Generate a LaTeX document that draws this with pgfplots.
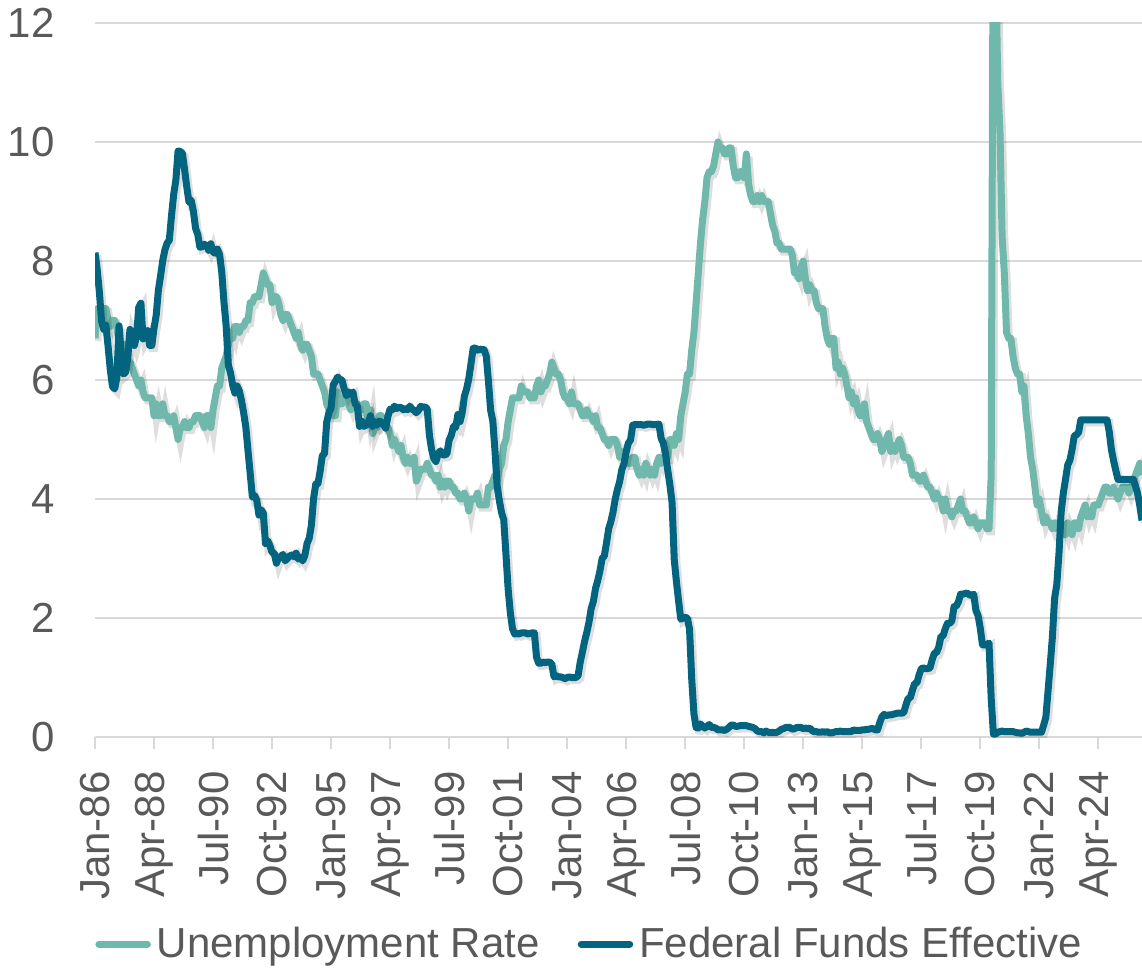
\documentclass[border=0pt]{standalone}
\usepackage{fontspec}
\setmainfont{Liberation Sans}
\usepackage{pgfplots}
\usepackage{pgfplotstable}
\pgfplotsset{compat=1.18}

\definecolor{unemp}{HTML}{70B8AC}
\definecolor{ffr}{HTML}{03647F}
\definecolor{txtgray}{HTML}{595959}
\definecolor{gridgray}{HTML}{D9D9D9}

% Monthly values, Jan 1986 - Dec 2025: unemployment rate (u) and effective fed funds rate (f), in percent
\pgfplotstableread[row sep=\\]{
u f\\
6.7 8.14\\ 7.2 7.86\\ 7.2 7.48\\ 7.1 6.99\\ 7.2 6.85\\ 7.2 6.92\\ 7.0 6.56\\ 6.9 6.17\\ 7.0 5.89\\ 7.0 5.85\\ 6.9 6.04\\ 6.6 6.91\\
6.6 6.43\\ 6.6 6.10\\ 6.6 6.13\\ 6.3 6.37\\ 6.3 6.85\\ 6.2 6.73\\ 6.1 6.58\\ 6.0 6.73\\ 5.9 7.22\\ 6.0 7.29\\ 5.8 6.69\\ 5.7 6.77\\
5.7 6.83\\ 5.7 6.58\\ 5.7 6.58\\ 5.4 6.87\\ 5.6 7.09\\ 5.4 7.51\\ 5.4 7.75\\ 5.6 8.01\\ 5.4 8.19\\ 5.4 8.30\\ 5.3 8.35\\ 5.3 8.76\\
5.4 9.12\\ 5.2 9.36\\ 5.0 9.85\\ 5.2 9.84\\ 5.2 9.81\\ 5.3 9.53\\ 5.2 9.24\\ 5.2 8.99\\ 5.3 9.02\\ 5.3 8.84\\ 5.4 8.55\\ 5.4 8.45\\
5.4 8.23\\ 5.3 8.24\\ 5.2 8.28\\ 5.4 8.26\\ 5.4 8.18\\ 5.2 8.29\\ 5.5 8.15\\ 5.7 8.13\\ 5.9 8.20\\ 5.9 8.11\\ 6.2 7.81\\ 6.3 7.31\\
6.4 6.91\\ 6.6 6.25\\ 6.8 6.12\\ 6.7 5.91\\ 6.9 5.78\\ 6.9 5.90\\ 6.8 5.82\\ 6.9 5.66\\ 6.9 5.45\\ 7.0 5.21\\ 7.0 4.81\\ 7.3 4.43\\
7.3 4.03\\ 7.4 4.06\\ 7.4 3.98\\ 7.4 3.73\\ 7.6 3.82\\ 7.8 3.76\\ 7.7 3.25\\ 7.6 3.30\\ 7.6 3.22\\ 7.3 3.10\\ 7.4 3.09\\ 7.4 2.92\\
7.3 3.02\\ 7.1 3.03\\ 7.0 3.07\\ 7.1 2.96\\ 7.1 3.00\\ 7.0 3.04\\ 6.9 3.06\\ 6.8 3.03\\ 6.7 3.09\\ 6.8 2.99\\ 6.6 3.02\\ 6.5 2.96\\
6.6 3.05\\ 6.6 3.25\\ 6.5 3.34\\ 6.4 3.56\\ 6.1 4.01\\ 6.1 4.25\\ 6.1 4.26\\ 6.0 4.47\\ 5.9 4.73\\ 5.8 4.76\\ 5.6 5.29\\ 5.5 5.45\\
5.6 5.53\\ 5.4 5.92\\ 5.4 5.98\\ 5.8 6.05\\ 5.6 6.01\\ 5.6 6.00\\ 5.7 5.85\\ 5.7 5.74\\ 5.6 5.80\\ 5.5 5.76\\ 5.6 5.80\\ 5.6 5.60\\
5.6 5.56\\ 5.5 5.22\\ 5.5 5.31\\ 5.6 5.22\\ 5.6 5.24\\ 5.3 5.27\\ 5.5 5.40\\ 5.1 5.22\\ 5.2 5.30\\ 5.2 5.24\\ 5.4 5.31\\ 5.4 5.29\\
5.3 5.25\\ 5.2 5.19\\ 5.2 5.39\\ 5.1 5.51\\ 4.9 5.50\\ 5.0 5.56\\ 4.9 5.52\\ 4.8 5.54\\ 4.9 5.54\\ 4.7 5.50\\ 4.6 5.52\\ 4.7 5.50\\
4.6 5.56\\ 4.6 5.51\\ 4.7 5.49\\ 4.3 5.45\\ 4.4 5.49\\ 4.5 5.56\\ 4.5 5.54\\ 4.5 5.55\\ 4.6 5.51\\ 4.5 5.07\\ 4.4 4.83\\ 4.4 4.68\\
4.3 4.63\\ 4.4 4.76\\ 4.2 4.81\\ 4.3 4.74\\ 4.2 4.74\\ 4.3 4.76\\ 4.3 4.99\\ 4.2 5.07\\ 4.2 5.22\\ 4.1 5.20\\ 4.1 5.42\\ 4.0 5.30\\
4.0 5.45\\ 4.1 5.73\\ 4.0 5.85\\ 3.8 6.02\\ 4.0 6.27\\ 4.0 6.53\\ 4.0 6.54\\ 4.1 6.50\\ 3.9 6.52\\ 3.9 6.51\\ 3.9 6.51\\ 3.9 6.40\\
4.2 5.98\\ 4.2 5.49\\ 4.3 5.31\\ 4.4 4.80\\ 4.3 4.21\\ 4.5 3.97\\ 4.6 3.77\\ 4.9 3.65\\ 5.0 3.07\\ 5.3 2.49\\ 5.5 2.09\\ 5.7 1.82\\
5.7 1.73\\ 5.7 1.74\\ 5.7 1.73\\ 5.9 1.75\\ 5.8 1.75\\ 5.8 1.75\\ 5.8 1.73\\ 5.7 1.74\\ 5.7 1.75\\ 5.7 1.75\\ 5.9 1.34\\ 6.0 1.24\\
5.8 1.24\\ 5.9 1.26\\ 5.9 1.25\\ 6.0 1.26\\ 6.1 1.26\\ 6.3 1.22\\ 6.2 1.01\\ 6.1 1.03\\ 6.1 1.01\\ 6.0 1.01\\ 5.8 1.00\\ 5.7 0.98\\
5.7 1.00\\ 5.6 1.01\\ 5.8 1.00\\ 5.6 1.00\\ 5.6 1.00\\ 5.6 1.03\\ 5.5 1.26\\ 5.4 1.43\\ 5.4 1.61\\ 5.5 1.76\\ 5.4 1.93\\ 5.4 2.16\\
5.3 2.28\\ 5.4 2.50\\ 5.2 2.63\\ 5.2 2.79\\ 5.1 3.00\\ 5.0 3.04\\ 5.0 3.26\\ 4.9 3.50\\ 5.0 3.62\\ 5.0 3.78\\ 5.0 4.00\\ 4.9 4.16\\
4.7 4.29\\ 4.8 4.49\\ 4.7 4.59\\ 4.7 4.79\\ 4.6 4.94\\ 4.6 4.99\\ 4.7 5.24\\ 4.7 5.25\\ 4.5 5.25\\ 4.4 5.25\\ 4.5 5.25\\ 4.4 5.24\\
4.6 5.25\\ 4.5 5.26\\ 4.4 5.26\\ 4.5 5.25\\ 4.4 5.25\\ 4.6 5.25\\ 4.7 5.26\\ 4.6 5.02\\ 4.7 4.94\\ 4.7 4.76\\ 4.7 4.49\\ 5.0 4.24\\
5.0 3.94\\ 4.9 2.98\\ 5.1 2.61\\ 5.0 2.28\\ 5.4 1.98\\ 5.6 2.00\\ 5.8 2.01\\ 6.1 2.00\\ 6.1 1.81\\ 6.5 0.97\\ 6.8 0.39\\ 7.3 0.16\\
7.8 0.15\\ 8.3 0.22\\ 8.7 0.18\\ 9.0 0.15\\ 9.4 0.18\\ 9.5 0.21\\ 9.5 0.16\\ 9.6 0.16\\ 9.8 0.15\\ 10.0 0.12\\ 9.9 0.12\\ 9.9 0.12\\
9.8 0.11\\ 9.8 0.13\\ 9.9 0.16\\ 9.9 0.20\\ 9.6 0.20\\ 9.4 0.18\\ 9.4 0.18\\ 9.5 0.19\\ 9.5 0.19\\ 9.4 0.19\\ 9.8 0.19\\ 9.3 0.18\\
9.1 0.17\\ 9.0 0.16\\ 9.0 0.14\\ 9.1 0.10\\ 9.0 0.09\\ 9.1 0.09\\ 9.0 0.07\\ 9.0 0.10\\ 9.0 0.08\\ 8.8 0.07\\ 8.6 0.08\\ 8.5 0.07\\
8.3 0.08\\ 8.3 0.10\\ 8.2 0.13\\ 8.2 0.14\\ 8.2 0.16\\ 8.2 0.16\\ 8.2 0.16\\ 8.1 0.13\\ 7.8 0.14\\ 7.8 0.16\\ 7.7 0.16\\ 7.9 0.16\\
8.0 0.14\\ 7.7 0.15\\ 7.5 0.14\\ 7.6 0.15\\ 7.5 0.11\\ 7.5 0.09\\ 7.3 0.09\\ 7.2 0.08\\ 7.2 0.08\\ 7.2 0.09\\ 6.9 0.08\\ 6.7 0.09\\
6.6 0.07\\ 6.7 0.07\\ 6.7 0.08\\ 6.2 0.09\\ 6.3 0.09\\ 6.1 0.10\\ 6.2 0.09\\ 6.1 0.09\\ 5.9 0.09\\ 5.7 0.09\\ 5.8 0.09\\ 5.6 0.12\\
5.7 0.11\\ 5.5 0.11\\ 5.4 0.11\\ 5.4 0.12\\ 5.6 0.12\\ 5.3 0.13\\ 5.2 0.13\\ 5.1 0.14\\ 5.0 0.14\\ 5.0 0.12\\ 5.1 0.12\\ 5.0 0.24\\
4.8 0.34\\ 4.9 0.38\\ 5.0 0.36\\ 5.1 0.37\\ 4.8 0.37\\ 4.9 0.38\\ 4.8 0.39\\ 4.9 0.40\\ 5.0 0.40\\ 4.9 0.40\\ 4.7 0.41\\ 4.7 0.54\\
4.7 0.65\\ 4.6 0.66\\ 4.4 0.79\\ 4.4 0.90\\ 4.4 0.91\\ 4.3 1.04\\ 4.3 1.15\\ 4.4 1.16\\ 4.3 1.15\\ 4.2 1.15\\ 4.2 1.16\\ 4.1 1.30\\
4.0 1.41\\ 4.1 1.42\\ 4.0 1.51\\ 4.0 1.69\\ 3.8 1.70\\ 4.0 1.82\\ 3.8 1.91\\ 3.8 1.91\\ 3.7 1.95\\ 3.8 2.19\\ 3.8 2.20\\ 3.9 2.27\\
4.0 2.40\\ 3.8 2.40\\ 3.8 2.41\\ 3.7 2.42\\ 3.6 2.39\\ 3.6 2.38\\ 3.7 2.40\\ 3.6 2.13\\ 3.5 2.04\\ 3.6 1.83\\ 3.6 1.55\\ 3.6 1.55\\
3.5 1.55\\ 3.5 1.58\\ 4.4 0.65\\ 14.8 0.05\\ 13.2 0.05\\ 11.0 0.08\\ 10.2 0.09\\ 8.4 0.10\\ 7.8 0.09\\ 6.8 0.09\\ 6.7 0.09\\ 6.7 0.09\\
6.4 0.09\\ 6.2 0.08\\ 6.1 0.07\\ 6.1 0.07\\ 5.8 0.06\\ 5.9 0.08\\ 5.4 0.10\\ 5.1 0.09\\ 4.7 0.08\\ 4.5 0.08\\ 4.2 0.08\\ 3.9 0.08\\
4.0 0.08\\ 3.8 0.08\\ 3.6 0.20\\ 3.7 0.33\\ 3.6 0.77\\ 3.6 1.21\\ 3.5 1.68\\ 3.6 2.33\\ 3.5 2.56\\ 3.6 3.08\\ 3.6 3.78\\ 3.5 4.10\\
3.4 4.33\\ 3.6 4.57\\ 3.5 4.65\\ 3.4 4.83\\ 3.6 5.06\\ 3.6 5.08\\ 3.5 5.12\\ 3.7 5.33\\ 3.8 5.33\\ 3.9 5.33\\ 3.7 5.33\\ 3.8 5.33\\
3.7 5.33\\ 3.9 5.33\\ 3.9 5.33\\ 3.9 5.33\\ 4.0 5.33\\ 4.1 5.33\\ 4.2 5.33\\ 4.2 5.33\\ 4.1 5.13\\ 4.1 4.83\\ 4.2 4.64\\ 4.1 4.48\\
4.0 4.33\\ 4.1 4.33\\ 4.2 4.33\\ 4.2 4.33\\ 4.2 4.33\\ 4.1 4.33\\ 4.2 4.33\\ 4.3 4.33\\ 4.4 4.22\\ 4.5 4.09\\ 4.6 3.88\\ 4.4 3.64\\
}\ratetable

\begin{document}
\begin{tikzpicture}
\begin{axis}[
  scale only axis,
  width=523.5pt, height=357pt,
  xmin=0, xmax=479, ymin=0, ymax=12,
  axis x line*=bottom, axis y line*=left,
  x axis line style={draw=gridgray, line width=1pt},
  y axis line style={draw=none},
  tick align=outside,
  major tick length=6pt,
  xtick style={draw=gridgray, line width=1pt},
  ytick style={draw=none},
  xtick={0,27,...,459},
  xticklabels={Jan-86,Apr-88,Jul-90,Oct-92,Jan-95,Apr-97,Jul-99,Oct-01,Jan-04,Apr-06,Jul-08,Oct-10,Jan-13,Apr-15,Jul-17,Oct-19,Jan-22,Apr-24},
  ytick={0,2,...,12},
  ymajorgrids,
  grid style={draw=gridgray, line width=1pt},
  /pgf/number format/assume math mode=true,
  tick label style={font=\fontsize{21}{25}\selectfont, text=txtgray},
  xticklabel style={rotate=90, anchor=east, inner sep=0pt, xshift=-11pt},
  yticklabel style={anchor=east, inner sep=0pt, xshift=-14pt},
  legend columns=2,
  legend style={at={(0,-0.29)}, anchor=west, draw=none, fill=none, inner sep=0pt,
    nodes={inner sep=0pt},
    font=\fontsize{21}{25}\selectfont, text=txtgray,
    /tikz/every odd column/.append style={column sep=3pt},
    /tikz/every even column/.append style={column sep=19pt}},
  legend cell align=left,
  legend image code/.code={\draw[#1, line cap=round] (1.75pt,0pt) -- (26pt,0pt);},
]
% faint drop shadow under each line
\addplot[draw=black, opacity=0.13, line width=3.8pt, xshift=1.2pt, yshift=-1.4pt, forget plot]
  table[x expr=\coordindex, y=u] {\ratetable};
\addplot[draw=unemp, line width=3.5pt, line join=round]
  table[x expr=\coordindex, y=u] {\ratetable};
\addlegendentry{Unemployment Rate}
\addplot[draw=black, opacity=0.13, line width=3.8pt, xshift=1.2pt, yshift=-1.4pt, forget plot]
  table[x expr=\coordindex, y=f] {\ratetable};
\addplot[draw=ffr, line width=3.5pt, line join=round]
  table[x expr=\coordindex, y=f] {\ratetable};
\addlegendentry{Federal Funds Effective}
\end{axis}
\pgfresetboundingbox
\useasboundingbox ([shift={(-47.5pt,-115pt)}]current axis.south west) rectangle ([shift={(0pt,11.5pt)}]current axis.north east);
\end{tikzpicture}
\end{document}
